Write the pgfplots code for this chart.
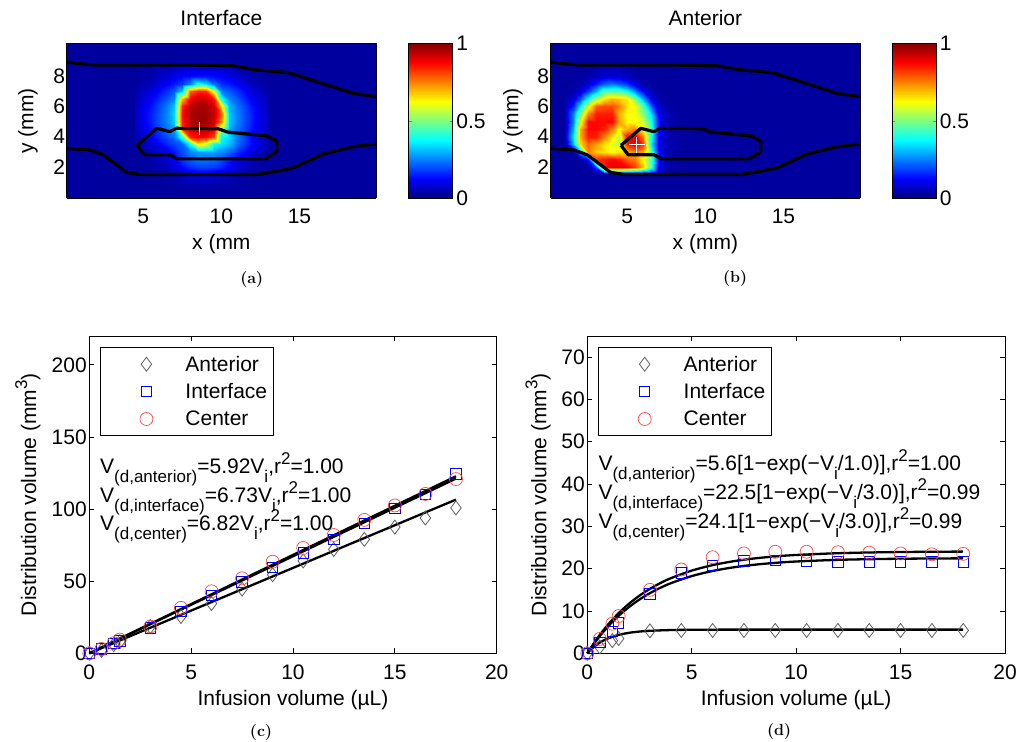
\documentclass[border=0pt]{standalone}
\usepackage{fontspec}
\usepackage{pgfplots}
\pgfplotsset{compat=1.18}
\newfontfamily\arial{Liberation Sans}
\newcommand{\ff}{\arial\fontsize{21}{25}\selectfont}
\newcommand{\sfs}{\arial\fontsize{17}{20}\selectfont}
\newcommand{\sub}[1]{\lower9pt\hbox{\sfs #1}}
\newcommand{\sups}[1]{\raise9pt\hbox{\sfs #1}}
\definecolor{dgray}{RGB}{95,95,95}
\definecolor{lred}{RGB}{255,70,70}

\pgfplotsset{
  /pgf/number format/assume math mode=true,
  every tick label/.append style={font=\ff},
  hmap/.style={
    scale only axis, width=309.3pt, height=155pt,
    view={0}{90},
    xmin=0.1, xmax=19.9, ymin=-0.1, ymax=10.2, zmin=0, zmax=1,
    enlargelimits=false,
    colormap/jet,
    point meta min=0, point meta max=1,
    xtick={5,10,15}, ytick={2,4,6,8}, ztick=\empty,
    major tick length=0pt,
    axis on top,
    axis line style={line width=0.8pt},
    xticklabel style={anchor=base, yshift=-25pt},
    yticklabel style={anchor=east, xshift=2pt},
    title style={at={(axis description cs:0.5,1)}, anchor=base, yshift=11.5pt, font=\ff},
    xlabel style={at={(axis description cs:0.5,0)}, anchor=base, yshift=-51pt, font=\ff},
    colorbar,
    colorbar/width=44pt,
  },
  cbar/.style={colorbar style={
    at={(parent axis.north east)}, anchor=north west, xshift=#1,
    width=44pt, height=155pt, scale only axis,
    ytick={0,0.5,1}, yticklabels={0,0.5,1},
    yticklabel style={font=\ff},
    major tick length=3pt, tick align=inside,
    axis line style={line width=0.8pt},
  }},
  myleg/.style={legend image code/.code={\path[draw=none,fill=none] (0pt,-2pt) rectangle (79pt,16pt); \draw[##1] plot coordinates {(40pt,7pt)};}},
  lplot/.style={
    scale only axis, height=317.3pt,
    xmin=0, xmax=20, xtick={0,5,10,15,20},
    tick align=inside, major tick length=5pt,
    axis line style={line width=0.8pt},
    every tick/.style={black, line width=0.8pt},
    xticklabel style={anchor=base, yshift=-26.5pt},
    yticklabel style={anchor=east, xshift=1pt},
    xlabel={Infusion volume (µL)},
    xlabel style={at={(axis description cs:0.5,0)}, anchor=base, yshift=-52pt, font=\ff},
    ylabel={Distribution volume (mm\sups{3})},
    clip=false,
    legend cell align=left,
    legend style={at={(axis description cs:0.0263,0.9644)}, anchor=north west, draw=black, line width=0.8pt,
      inner xsep=6pt, inner ysep=7pt, row sep=8.4pt,
      nodes={inner sep=0pt, font=\ff, text height=16.5pt, text depth=2.5pt, anchor=base west}},
  },
  ant/.style={only marks, mark=diamond, mark size=7pt, dgray, line width=0.8pt, myleg},
  intf/.style={only marks, mark=square, mark size=5.2pt, blue, line width=0.8pt, myleg},
  cent/.style={only marks, mark=o, mark size=6.5pt, lred, line width=0.7pt, myleg},
  fitl/.style={black, line width=2.3pt, forget plot},
  cont/.style={black, line width=3.2pt, line join=round},
}

\begin{document}
\begin{tikzpicture}
\path[use as bounding box] (0pt,0pt) rectangle (1019pt,741pt);

% ---------------- (a) ----------------
\begin{axis}[hmap, cbar=24.3pt, at={(66.7pt,542.7pt)}, anchor=south west,
  title={Interface}, xlabel={x (mm}, ylabel={y (mm)},
  every axis y label/.style={at={(axis description cs:-0.1251,0.5)}, rotate=90, anchor=center, font=\ff}]
\addplot3[surf, shader=flat, mesh/cols=2, point meta=z] coordinates {(0.1,-0.1,0.03)(19.9,-0.1,0.03)(0.1,10.2,0.03)(19.9,10.2,0.03)};
\addplot3[surf, shader=interp, mesh/cols=14, point meta=z] coordinates {
(4.5,0.5,0.03)(5.5,0.5,0.03)(6.5,0.5,0.03)(7,0.5,0.03)(7.5,0.5,0.03)(8,0.5,0.03)(8.5,0.5,0.03)(9,0.5,0.03)(9.5,0.5,0.03)(10,0.5,0.03)(10.5,0.5,0.03)(11,0.5,0.03)(12,0.5,0.03)(13,0.5,0.03)
(4.5,1.5,0.03)(5.5,1.5,0.03)(6.5,1.5,0.04)(7,1.5,0.05)(7.5,1.5,0.07)(8,1.5,0.08)(8.5,1.5,0.09)(9,1.5,0.09)(9.5,1.5,0.08)(10,1.5,0.07)(10.5,1.5,0.06)(11,1.5,0.05)(12,1.5,0.03)(13,1.5,0.03)
(4.5,2,0.03)(5.5,2,0.035)(6.5,2,0.06)(7,2,0.09)(7.5,2,0.13)(8,2,0.17)(8.5,2,0.19)(9,2,0.19)(9.5,2,0.18)(10,2,0.16)(10.5,2,0.12)(11,2,0.08)(12,2,0.04)(13,2,0.03)
(4.5,2.5,0.03)(5.5,2.5,0.04)(6.5,2.5,0.08)(7,2.5,0.12)(7.5,2.5,0.18)(8,2.5,0.22)(8.5,2.5,0.24)(9,2.5,0.24)(9.5,2.5,0.23)(10,2.5,0.20)(10.5,2.5,0.15)(11,2.5,0.10)(12,2.5,0.05)(13,2.5,0.03)
(4.5,3,0.03)(5.5,3,0.055)(6.5,3,0.10)(7,3,0.14)(7.5,3,0.20)(8,3,0.25)(8.5,3,0.28)(9,3,0.28)(9.5,3,0.28)(10,3,0.26)(10.5,3,0.22)(11,3,0.17)(12,3,0.08)(13,3,0.03)
(4.5,3.5,0.04)(5.5,3.5,0.08)(6.5,3.5,0.16)(7,3.5,0.19)(7.5,3.5,0.22)(8,3.5,0.39)(8.5,3.5,0.65)(9,3.5,0.58)(9.5,3.5,0.38)(10,3.5,0.35)(10.5,3.5,0.31)(11,3.5,0.23)(12,3.5,0.12)(13,3.5,0.04)
(4.5,4,0.045)(5.5,4,0.12)(6.5,4,0.20)(7,4,0.24)(7.5,4,0.42)(8,4,0.84)(8.5,4,0.88)(9,4,0.87)(9.5,4,0.80)(10,4,0.38)(10.5,4,0.34)(11,4,0.25)(12,4,0.11)(13,4,0.05)
(4.5,4.5,0.06)(5.5,4.5,0.14)(6.5,4.5,0.24)(7,4.5,0.29)(7.5,4.5,0.81)(8,4.5,0.91)(8.5,4.5,0.96)(9,4.5,0.94)(9.5,4.5,0.88)(10,4.5,0.50)(10.5,4.5,0.29)(11,4.5,0.23)(12,4.5,0.13)(13,4.5,0.055)
(4.5,5,0.065)(5.5,5,0.155)(6.5,5,0.26)(7,5,0.33)(7.5,5,0.85)(8,5,0.95)(8.5,5,0.97)(9,5,0.97)(9.5,5,0.92)(10,5,0.75)(10.5,5,0.32)(11,5,0.25)(12,5,0.14)(13,5,0.06)
(4.5,5.5,0.065)(5.5,5.5,0.155)(6.5,5.5,0.26)(7,5.5,0.34)(7.5,5.5,0.86)(8,5.5,0.96)(8.5,5.5,0.97)(9,5.5,0.97)(9.5,5.5,0.93)(10,5.5,0.80)(10.5,5.5,0.32)(11,5.5,0.25)(12,5.5,0.14)(13,5.5,0.06)
(4.5,6,0.06)(5.5,6,0.14)(6.5,6,0.25)(7,6,0.32)(7.5,6,0.84)(8,6,0.94)(8.5,6,0.96)(9,6,0.96)(9.5,6,0.91)(10,6,0.67)(10.5,6,0.30)(11,6,0.24)(12,6,0.13)(13,6,0.055)
(4.5,6.5,0.05)(5.5,6.5,0.12)(6.5,6.5,0.21)(7,6.5,0.26)(7.5,6.5,0.70)(8,6.5,0.89)(8.5,6.5,0.93)(9,6.5,0.92)(9.5,6.5,0.85)(10,6.5,0.41)(10.5,6.5,0.26)(11,6.5,0.21)(12,6.5,0.11)(13,6.5,0.05)
(4.5,7,0.045)(5.5,7,0.09)(6.5,7,0.17)(7,7,0.21)(7.5,7,0.33)(8,7,0.78)(8.5,7,0.84)(9,7,0.83)(9.5,7,0.58)(10,7,0.25)(10.5,7,0.21)(11,7,0.17)(12,7,0.085)(13,7,0.04)
(4.5,7.5,0.03)(5.5,7.5,0.06)(6.5,7.5,0.12)(7,7.5,0.15)(7.5,7.5,0.18)(8,7.5,0.26)(8.5,7.5,0.40)(9,7.5,0.35)(9.5,7.5,0.24)(10,7.5,0.17)(10.5,7.5,0.15)(11,7.5,0.12)(12,7.5,0.06)(13,7.5,0.03)
(4.5,8,0.03)(5.5,8,0.045)(6.5,8,0.08)(7,8,0.10)(7.5,8,0.12)(8,8,0.13)(8.5,8,0.14)(9,8,0.14)(9.5,8,0.13)(10,8,0.12)(10.5,8,0.10)(11,8,0.075)(12,8,0.04)(13,8,0.03)
(4.5,9,0.03)(5.5,9,0.03)(6.5,9,0.03)(7,9,0.04)(7.5,9,0.045)(8,9,0.047)(8.5,9,0.05)(9,9,0.05)(9.5,9,0.047)(10,9,0.043)(10.5,9,0.04)(11,9,0.03)(12,9,0.03)(13,9,0.03)
};
\addplot3[cont] coordinates {(0.1,8.95,1)(0.9,8.85,1)(2.0,8.75,1)(8.2,8.75,1)(10.8,8.7,1)(12.1,8.45,1)(14.3,8.25,1)(15.5,7.85,1)(16.8,7.42,1)(18.4,6.88,1)(19.9,6.65,1)};
\addplot3[cont] coordinates {(0.1,3.22,1)(1.6,3.11,1)(2.45,2.78,1)(3.94,1.62,1)(4.8,1.48,1)(12.3,1.48,1)(13.5,1.7,1)(14.6,1.92,1)(16.5,2.85,1)(18.47,3.33,1)(19.9,3.5,1)};
\addplot3[cont] coordinates {(4.6,3.42,1)(5.87,4.55,1)(6.7,4.33,1)(7.1,4.55,1)(9.8,4.52,1)(10.4,4.3,1)(12.9,4.05,1)(13.55,3.7,1)(13.55,3.0,1)(12.8,2.52,1)(7.15,2.52,1)(6.72,2.8,1)(5.05,2.8,1)(4.6,3.42,1)};
\addplot3[white, line width=1.2pt] coordinates {(8.6,4.1,1)(8.6,5.0,1)};
\end{axis}

% ---------------- (b) ----------------
\begin{axis}[hmap, cbar=23.7pt, at={(550.7pt,542.7pt)}, anchor=south west,
  title={Anterior}, xlabel={x (mm)}, ylabel={y (mm)},
  every axis y label/.style={at={(axis description cs:-0.1219,0.5)}, rotate=90, anchor=center, font=\ff}]
\addplot3[surf, shader=flat, mesh/cols=2, point meta=z] coordinates {(0.1,-0.1,0.03)(19.9,-0.1,0.03)(0.1,10.2,0.03)(19.9,10.2,0.03)};
\addplot3[surf, shader=interp, mesh/cols=15, point meta=z] coordinates {
(1,0.5,0.03)(1.5,0.5,0.03)(2,0.5,0.03)(2.5,0.5,0.03)(3,0.5,0.03)(3.5,0.5,0.03)(4,0.5,0.03)(4.5,0.5,0.03)(5,0.5,0.03)(5.5,0.5,0.03)(6,0.5,0.03)(6.5,0.5,0.03)(7,0.5,0.03)(7.5,0.5,0.03)(8.5,0.5,0.03)
(1,1.5,0.03)(1.5,1.5,0.03)(2,1.5,0.03)(2.5,1.5,0.03)(3,1.5,0.03)(3.5,1.5,0.03)(4,1.5,0.03)(4.5,1.5,0.03)(5,1.5,0.03)(5.5,1.5,0.03)(6,1.5,0.03)(6.5,1.5,0.03)(7,1.5,0.03)(7.5,1.5,0.03)(8.5,1.5,0.03)
(1,2,0.03)(1.5,2,0.03)(2,2,0.03)(2.5,2,0.03)(3,2,0.20)(3.5,2,0.85)(4,2,0.90)(4.5,2,0.90)(5,2,0.88)(5.5,2,0.82)(6,2,0.68)(6.5,2,0.45)(7,2,0.12)(7.5,2,0.04)(8.5,2,0.03)
(1,2.5,0.03)(1.5,2.5,0.03)(2,2.5,0.03)(2.5,2.5,0.15)(3,2.5,0.82)(3.5,2.5,0.85)(4,2.5,0.87)(4.5,2.5,0.85)(5,2.5,0.78)(5.5,2.5,0.75)(6,2.5,0.62)(6.5,2.5,0.45)(7,2.5,0.15)(7.5,2.5,0.05)(8.5,2.5,0.03)
(1,3,0.03)(1.5,3,0.03)(2,3,0.30)(2.5,3,0.75)(3,3,0.68)(3.5,3,0.65)(4,3,0.62)(4.5,3,0.65)(5,3,0.70)(5.5,3,0.75)(6,3,0.70)(6.5,3,0.45)(7,3,0.15)(7.5,3,0.05)(8.5,3,0.03)
(1,3.5,0.05)(1.5,3.5,0.30)(2,3.5,0.65)(2.5,3.5,0.78)(3,3.5,0.72)(3.5,3.5,0.65)(4,3.5,0.60)(4.5,3.5,0.55)(5,3.5,0.85)(5.5,3.5,0.90)(6,3.5,0.82)(6.5,3.5,0.35)(7,3.5,0.12)(7.5,3.5,0.05)(8.5,3.5,0.03)
(1,4,0.08)(1.5,4,0.35)(2,4,0.70)(2.5,4,0.85)(3,4,0.85)(3.5,4,0.75)(4,4,0.65)(4.5,4,0.55)(5,4,0.88)(5.5,4,0.90)(6,4,0.75)(6.5,4,0.40)(7,4,0.12)(7.5,4,0.05)(8.5,4,0.03)
(1,4.5,0.06)(1.5,4.5,0.30)(2,4.5,0.70)(2.5,4.5,0.87)(3,4.5,0.87)(3.5,4.5,0.85)(4,4.5,0.75)(4.5,4.5,0.62)(5,4.5,0.70)(5.5,4.5,0.75)(6,4.5,0.62)(6.5,4.5,0.45)(7,4.5,0.15)(7.5,4.5,0.05)(8.5,4.5,0.03)
(1,5,0.06)(1.5,5,0.25)(2,5,0.60)(2.5,5,0.87)(3,5,0.87)(3.5,5,0.87)(4,5,0.87)(4.5,5,0.72)(5,5,0.63)(5.5,5,0.62)(6,5,0.58)(6.5,5,0.40)(7,5,0.15)(7.5,5,0.05)(8.5,5,0.03)
(1,5.5,0.08)(1.5,5.5,0.25)(2,5.5,0.50)(2.5,5.5,0.75)(3,5.5,0.85)(3.5,5.5,0.85)(4,5.5,0.85)(4.5,5.5,0.70)(5,5.5,0.62)(5.5,5.5,0.62)(6,5.5,0.50)(6.5,5.5,0.35)(7,5.5,0.12)(7.5,5.5,0.05)(8.5,5.5,0.03)
(1,6,0.06)(1.5,6,0.15)(2,6,0.35)(2.5,6,0.60)(3,6,0.78)(3.5,6,0.80)(4,6,0.80)(4.5,6,0.75)(5,6,0.65)(5.5,6,0.60)(6,6,0.45)(6.5,6,0.22)(7,6,0.08)(7.5,6,0.04)(8.5,6,0.03)
(1,6.5,0.04)(1.5,6.5,0.08)(2,6.5,0.20)(2.5,6.5,0.38)(3,6.5,0.55)(3.5,6.5,0.65)(4,6.5,0.70)(4.5,6.5,0.68)(5,6.5,0.65)(5.5,6.5,0.50)(6,6.5,0.30)(6.5,6.5,0.12)(7,6.5,0.05)(7.5,6.5,0.03)(8.5,6.5,0.03)
(1,7,0.03)(1.5,7,0.04)(2,7,0.08)(2.5,7,0.18)(3,7,0.30)(3.5,7,0.45)(4,7,0.45)(4.5,7,0.45)(5,7,0.38)(5.5,7,0.25)(6,7,0.12)(6.5,7,0.05)(7,7,0.03)(7.5,7,0.03)(8.5,7,0.03)
(1,7.5,0.03)(1.5,7.5,0.03)(2,7.5,0.04)(2.5,7.5,0.08)(3,7.5,0.15)(3.5,7.5,0.22)(4,7.5,0.25)(4.5,7.5,0.22)(5,7.5,0.18)(5.5,7.5,0.10)(6,7.5,0.05)(6.5,7.5,0.03)(7,7.5,0.03)(7.5,7.5,0.03)(8.5,7.5,0.03)
(1,8,0.03)(1.5,8,0.03)(2,8,0.03)(2.5,8,0.04)(3,8,0.06)(3.5,8,0.08)(4,8,0.08)(4.5,8,0.08)(5,8,0.06)(5.5,8,0.04)(6,8,0.03)(6.5,8,0.03)(7,8,0.03)(7.5,8,0.03)(8.5,8,0.03)
(1,9,0.03)(1.5,9,0.03)(2,9,0.03)(2.5,9,0.03)(3,9,0.03)(3.5,9,0.03)(4,9,0.03)(4.5,9,0.03)(5,9,0.03)(5.5,9,0.03)(6,9,0.03)(6.5,9,0.03)(7,9,0.03)(7.5,9,0.03)(8.5,9,0.03)
};
\addplot3[cont] coordinates {(0.1,8.95,1)(0.9,8.85,1)(2.0,8.75,1)(8.2,8.75,1)(10.8,8.7,1)(12.1,8.45,1)(14.3,8.25,1)(15.5,7.85,1)(16.8,7.42,1)(18.4,6.88,1)(19.9,6.65,1)};
\addplot3[cont] coordinates {(0.1,3.22,1)(1.6,3.11,1)(2.45,2.78,1)(3.94,1.62,1)(4.8,1.48,1)(12.3,1.48,1)(13.5,1.7,1)(14.6,1.92,1)(16.5,2.85,1)(18.47,3.33,1)(19.9,3.5,1)};
\addplot3[cont] coordinates {(4.6,3.42,1)(5.87,4.55,1)(6.7,4.33,1)(7.1,4.55,1)(9.8,4.52,1)(10.4,4.3,1)(12.9,4.05,1)(13.55,3.7,1)(13.55,3.0,1)(12.8,2.52,1)(7.15,2.52,1)(6.72,2.8,1)(5.05,2.8,1)(4.6,3.42,1)};
\addplot3[only marks, mark=+, mark size=8pt, white, line width=1.2pt] coordinates {(5.6,3.45,1)};
\end{axis}

% ---------------- (c) ----------------
\begin{axis}[lplot, at={(89.3pt,87.7pt)}, anchor=south west, width=407.4pt,
  ymin=0, ymax=220, ytick={0,50,100,150,200},
  every axis y label/.style={at={(axis description cs:-0.1505,0.5)}, rotate=90, anchor=center, font=\ff}]
\addplot[ant] coordinates {(0,0)(0.6,2)(1.2,6)(1.5,8)(3,18.5)(4.5,25.5)(6,34.5)(7.5,44.5)(9,54.5)(10.5,64)(12,72)(13.5,79)(15,87.5)(16.5,93.8)(18,100.8)};
\addlegendentry{Anterior}
\addplot[intf] coordinates {(0,0)(0.6,3)(1.2,7)(1.5,8.5)(3,17.5)(4.5,29)(6,40)(7.5,49.5)(9,59.5)(10.5,69.5)(12,79)(13.5,90)(15,100.3)(16.5,110.3)(18,124.3)};
\addlegendentry{Interface}
\addplot[cent] coordinates {(0,0)(0.6,3)(1.2,7)(1.5,9.5)(3,18.5)(4.5,31.5)(6,43)(7.5,52)(9,63.5)(10.5,73)(12,82)(13.5,92.5)(15,102.5)(16.5,110.5)(18,120.8)};
\addlegendentry{Center}
\addplot[fitl] coordinates {(0,0)(18,106.56)};
\addplot[fitl] coordinates {(0,0)(18,121.14)};
\addplot[fitl] coordinates {(0,0)(18,122.76)};
\node[anchor=base west, font=\ff, inner sep=0pt] at (axis cs:0.525,124.8) {V\sub{(d,anterior)}=5.92V\sub{i},r\sups{2}=1.00};
\node[anchor=base west, font=\ff, inner sep=0pt] at (axis cs:0.525,104.4) {V\sub{(d,interface)}=6.73V\sub{i},r\sups{2}=1.00};
\node[anchor=base west, font=\ff, inner sep=0pt] at (axis cs:0.525,84.8) {V\sub{(d,center)}=6.82V\sub{i},r\sups{2}=1.00};
\end{axis}

% ---------------- (d) ----------------
\begin{axis}[lplot, at={(587.3pt,87.7pt)}, anchor=south west, width=417.7pt,
  ymin=0, ymax=75, ytick={0,10,20,30,40,50,60,70},
  every axis y label/.style={at={(axis description cs:-0.118,0.5)}, rotate=90, anchor=center, font=\ff}]
\addplot[ant] coordinates {(0,0)(0.6,1.5)(1.2,3.0)(1.5,3.5)(3,5.3)(4.5,5.4)(6,5.4)(7.5,5.4)(9,5.4)(10.5,5.4)(12,5.4)(13.5,5.4)(15,5.4)(16.5,5.4)(18,5.4)};
\addlegendentry{Anterior}
\addplot[intf] coordinates {(0,0)(0.6,2.6)(1.2,5.2)(1.5,7.2)(3,14)(4.5,19)(6,20.8)(7.5,21.8)(9,22)(10.5,21.8)(12,21.6)(13.5,21.6)(15,21.6)(16.5,21.6)(18,21.6)};
\addlegendentry{Interface}
\addplot[cent] coordinates {(0,0)(0.6,3.4)(1.2,7)(1.5,8.8)(3,15)(4.5,19.8)(6,22.7)(7.5,23.6)(9,24)(10.5,24)(12,23.9)(13.5,23.8)(15,23.6)(16.5,23.4)(18,23.5)};
\addlegendentry{Center}
\addplot[fitl, smooth] coordinates {(0,0)(0.25,1.239)(0.5,2.203)(0.75,2.955)(1,3.540)(1.5,4.351)(2,4.842)(2.5,5.140)(3,5.321)(4,5.497)(5,5.562)(6,5.586)(8,5.598)(18,5.6)};
\addplot[fitl, smooth] coordinates {(0,0)(0.5,3.453)(1,6.379)(1.5,8.853)(2,10.948)(2.5,12.72)(3,14.223)(3.5,15.49)(4,16.569)(5,18.250)(6,19.456)(7,20.318)(8,20.936)(9,21.380)(10,21.697)(12,22.088)(14,22.288)(16,22.392)(18,22.444)};
\addplot[fitl, smooth] coordinates {(0,0)(0.5,3.699)(1,6.832)(1.5,9.483)(2,11.727)(2.5,13.63)(3,15.234)(3.5,16.60)(4,17.747)(5,19.548)(6,20.839)(7,21.762)(8,22.425)(9,22.900)(10,23.240)(12,23.659)(14,23.873)(16,23.984)(18,24.040)};
\node[anchor=base west, font=\ff, inner sep=0pt] at (axis cs:0.527,43.3) {V\sub{(d,anterior)}=5.6[1−exp(−V\sub{i}/1.0)],r\sups{2}=1.00};
\node[anchor=base west, font=\ff, inner sep=0pt] at (axis cs:0.527,36.4) {V\sub{(d,interface)}=22.5[1−exp(−V\sub{i}/3.0)],r\sups{2}=0.99};
\node[anchor=base west, font=\ff, inner sep=0pt] at (axis cs:0.527,29.5) {V\sub{(d,center)}=24.1[1−exp(−V\sub{i}/3.0)],r\sups{2}=0.99};
\end{axis}

% captions
\node[font=\fontsize{16}{19}\selectfont\bfseries] at (251.7pt,461.7pt) {(a)};
\node[font=\fontsize{16}{19}\selectfont\bfseries] at (735pt,462pt) {(b)};
\node[font=\fontsize{16}{19}\selectfont\bfseries] at (261pt,8.5pt) {(c)};
\node[font=\fontsize{16}{19}\selectfont\bfseries] at (779pt,9pt) {(d)};
\end{tikzpicture}
\end{document}
